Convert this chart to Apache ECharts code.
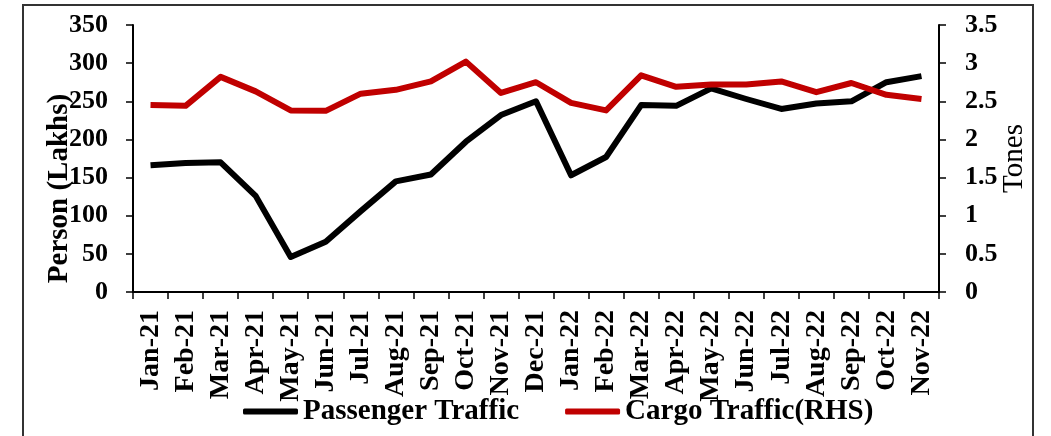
<!DOCTYPE html>
<html>
<head>
<meta charset="utf-8">
<script src="https://cdn.jsdelivr.net/npm/echarts@6/dist/echarts.min.js"></script>
<style>
  html, body { margin: 0; padding: 0; background: #fff; }
  #chart { width: 1051px; height: 436px; }
</style>
</head>
<body>
<div id="chart"></div>
<script>
const categories = ['Jan-21','Feb-21','Mar-21','Apr-21','May-21','Jun-21','Jul-21','Aug-21','Sep-21','Oct-21','Nov-21','Dec-21',
  'Jan-22','Feb-22','Mar-22','Apr-22','May-22','Jun-22','Jul-22','Aug-22','Sep-22','Oct-22','Nov-22'];
const passengerTraffic = [166, 169, 170, 126, 46, 66, 106, 145, 154, 197, 232, 250, 153, 177, 245, 244, 267, 253, 240, 247, 250, 275, 283];
const cargoTraffic = [2.45, 2.44, 2.82, 2.63, 2.38, 2.375, 2.60, 2.65, 2.76, 3.02, 2.61, 2.75, 2.48, 2.38, 2.84, 2.69, 2.72, 2.72, 2.76, 2.62, 2.74, 2.585, 2.53];
const leftTicks = { min: 0, max: 350, interval: 50 };
const rightTicks = { min: 0, max: 3.5, interval: 0.5 };

const FONT = 'Liberation Serif';
const chart = echarts.init(document.getElementById('chart'), null, { renderer: 'canvas' });

const axisLineStyle = { color: '#000', width: 2 };

chart.setOption({
  backgroundColor: '#fff',
  animation: false,
  graphic: [{
    type: 'rect',
    shape: { x: 23, y: 5, width: 1010, height: 440 },
    style: { fill: 'none', stroke: '#333', lineWidth: 2 },
    silent: true
  }],
  grid: { left: 133, right: 112, top: 25, bottom: 144 },
  legend: {
    left: 238,
    top: 392,
    itemWidth: 55,
    itemHeight: 6,
    itemGap: 46,
    textStyle: { fontFamily: FONT, fontWeight: 'bold', fontSize: 29, color: '#000' },
    data: [
      { name: 'Passenger Traffic', icon: 'roundRect' },
      { name: 'Cargo Traffic(RHS)', icon: 'roundRect' }
    ]
  },
  xAxis: {
    type: 'category',
    data: categories,
    boundaryGap: true,
    axisLine: { lineStyle: axisLineStyle },
    axisTick: { show: true, length: 7, lineStyle: { color: '#000', width: 1.5 }, alignWithLabel: false },
    axisLabel: {
      rotate: 90, interval: 0, margin: 18,
      fontFamily: FONT, fontWeight: 'bold', fontSize: 28, color: '#000'
    }
  },
  yAxis: [{
    type: 'value',
    position: 'left',
    min: leftTicks.min, max: leftTicks.max, interval: leftTicks.interval,
    name: 'Person (Lakhs)',
    nameLocation: 'middle',
    nameRotate: 90,
    nameGap: 59,
    nameMoveOverlap: false,
    nameTextStyle: { fontFamily: FONT, fontWeight: 'bold', fontSize: 29, color: '#000', padding: [0, 60, 0, 0] },
    axisLine: { show: true, lineStyle: axisLineStyle },
    axisTick: { show: true, length: 7, lineStyle: { color: '#000', width: 1.5 } },
    splitLine: { show: false },
    axisLabel: { margin: 25, fontFamily: FONT, fontWeight: 'bold', fontSize: 26, color: '#000' }
  }, {
    type: 'value',
    position: 'right',
    min: rightTicks.min, max: rightTicks.max, interval: rightTicks.interval,
    name: 'Tones',
    nameLocation: 'middle',
    nameRotate: 90,
    nameGap: 61,
    nameMoveOverlap: false,
    nameTextStyle: { fontFamily: FONT, fontWeight: 'normal', fontSize: 29, color: '#000' },
    axisLine: { show: true, lineStyle: axisLineStyle },
    axisTick: { show: true, length: 7, lineStyle: { color: '#000', width: 1.5 } },
    splitLine: { show: false },
    axisLabel: { margin: 26, fontFamily: FONT, fontWeight: 'bold', fontSize: 26, color: '#000' }
  }],
  series: [{
    name: 'Passenger Traffic',
    type: 'line',
    yAxisIndex: 0,
    data: passengerTraffic,
    symbol: 'none',
    color: '#000000',
    lineStyle: { color: '#000000', width: 6, join: 'round' }
  }, {
    name: 'Cargo Traffic(RHS)',
    type: 'line',
    yAxisIndex: 1,
    data: cargoTraffic,
    symbol: 'none',
    color: '#C00000',
    lineStyle: { color: '#C00000', width: 6, join: 'round' }
  }]
});
</script>
</body>
</html>
